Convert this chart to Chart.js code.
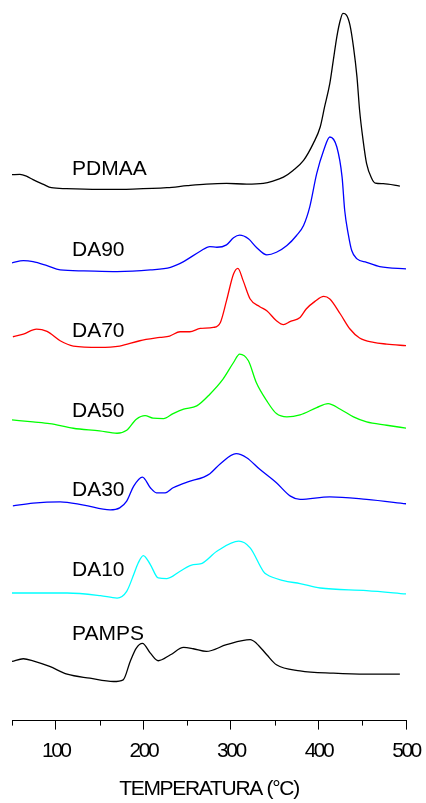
<!DOCTYPE html>
<html>
<head>
<meta charset="utf-8">
<script src="https://cdn.jsdelivr.net/npm/chart.js@4.4.1/dist/chart.umd.min.js"></script>
<style>
  html, body { margin: 0; padding: 0; background: #fff; }
  #wrap { width: 426px; height: 803px; position: relative; }
</style>
</head>
<body>
<div id="wrap"><canvas id="c"></canvas></div>
<script>
// DTG curves, stacked with vertical offsets (arbitrary units)
const pdmaaT = [50, 59, 67, 74, 86, 95, 112, 150, 188, 227, 250, 272, 295, 318, 337, 348, 360, 371, 383, 394, 402, 407, 413, 417, 421, 425, 428, 432, 436, 440, 444, 447, 451, 455, 461, 465, 474, 493];
const pdmaaY = [544.7, 545, 543, 539.7, 535, 531.7, 530.7, 530, 530.3, 531.7, 533.7, 535.3, 536, 535.3, 536, 538.3, 542.3, 549, 559, 575.7, 592.3, 612.3, 635.7, 659, 682.3, 699, 705.7, 704, 694, 672.3, 642.3, 609, 579, 555.7, 540.7, 536.3, 535.7, 533.3];

const da90T = [50, 63, 74, 90, 105, 132, 170, 208, 231, 246, 265, 276, 284, 295, 303, 310, 320, 329, 341, 352, 364, 375, 383, 390, 398, 406, 413, 421, 427, 430, 434, 438, 444, 455, 470, 501];
const da90Y = [456.7, 459, 458, 454, 449.7, 448.7, 448, 449.7, 452.3, 458, 468.3, 473, 472.3, 474.7, 481.7, 484.3, 480.7, 472.3, 464.7, 467.3, 474, 484, 494, 512.3, 545.7, 569, 582.3, 572.3, 542.3, 509, 485.7, 469, 460.7, 457.3, 453, 450.7];

const da70T = [51, 63, 78, 90, 105, 120, 150, 173, 196, 219, 230, 242, 253, 265, 280, 288, 295, 303, 308, 314, 322, 333, 341, 352, 360, 368, 379, 386, 396, 406, 413, 425, 436, 447, 463, 478, 501];
const da70Y = [383, 385.7, 390.7, 388.3, 379, 373.7, 372.3, 373.7, 379, 382.3, 383.7, 388, 388, 391.3, 392.3, 397.3, 419, 445.7, 451.3, 439, 420.7, 413, 409, 399, 395, 398.3, 402.3, 410.7, 418.3, 423.3, 420.7, 405.7, 390.7, 381.7, 377.3, 375.7, 374];

const da50T = [50, 74, 93, 120, 150, 170, 181, 192, 202, 211, 223, 234, 246, 261, 276, 291, 303, 310, 320, 329, 341, 352, 364, 379, 398, 411, 425, 440, 455, 478, 501];
const da50Y = [300, 298, 296.3, 291.7, 289, 286.7, 289.7, 300.7, 304.3, 301.7, 301.3, 306.3, 310.7, 314, 325.7, 340.7, 357.3, 365.7, 359, 337.3, 319, 306.3, 303, 305, 312.3, 316.3, 310.7, 303, 298, 294.7, 291.7];

const da30T = [51, 74, 105, 132, 162, 173, 181, 189, 199, 208, 215, 225, 234, 250, 269, 276, 288, 306, 318, 333, 352, 368, 379, 413, 455, 501];
const da30Y = [214.3, 217, 218.3, 215, 210.3, 212.3, 219, 234, 243, 232.3, 227.3, 227.3, 232.3, 238, 243, 246.3, 256.3, 266.3, 262.3, 250.7, 237.3, 224, 220.7, 223.3, 220.7, 216.3];

const da10T = [50, 74, 113, 151, 170, 181, 189, 194, 200, 208, 217, 227, 242, 257, 265, 284, 309, 322, 337, 341, 360, 379, 402, 455, 501];
const da10Y = [127.3, 127.3, 127.3, 124.7, 122.3, 129, 145.7, 157, 164.7, 155.7, 142.3, 141.7, 149, 155.7, 156.3, 169, 179, 172.3, 149, 145.7, 139.7, 136.7, 132.3, 129.7, 126.3];

const pampsT = [50, 63, 74, 93, 113, 139, 166, 177, 185, 192, 199, 208, 217, 231, 246, 257, 272, 295, 322, 329, 341, 352, 379, 417, 455, 493];
const pampsY = [59, 61.7, 59.7, 54, 46.3, 42.3, 39, 40.7, 59, 72.3, 77, 67.3, 59.7, 65.7, 73, 71.7, 69, 75.7, 80.7, 77.3, 65.7, 55.7, 49.7, 47.3, 46.3, 46.3];

const seriesNames  = ['PDMAA', 'DA90', 'DA70', 'DA50', 'DA30', 'DA10', 'PAMPS'];
const seriesColors = ['#000000', '#0000ff', '#ff0000', '#00ff00', '#0000ff', '#00ffff', '#000000'];
const seriesT = [pdmaaT, da90T, da70T, da50T, da30T, da10T, pampsT];
const seriesY = [pdmaaY, da90Y, da70Y, da50Y, da30Y, da10Y, pampsY];

// label anchor for each curve name (temperature, offset value at baseline)
const labelT = [118.5, 118.5, 118.5, 118.5, 118.5, 118.5, 118.5];
const labelY = [544, 464, 383, 303, 224, 144, 80];

const tickLabels = [100, 200, 300, 400, 500];
const xTitle = 'TEMPERATURA (°C)';

const datasets = seriesNames.map((name, i) => ({
  label: name,
  data: seriesT[i].map((t, k) => ({ x: t, y: seriesY[i][k] })),
  borderColor: seriesColors[i],
  borderWidth: 1.3,
  pointRadius: 0,
  fill: false,
  cubicInterpolationMode: 'monotone'
}));

const FONT = 'Liberation Sans, Arial, sans-serif';

const decor = {
  id: 'decor',
  beforeDraw(chart) {
    chart.ctx.letterSpacing = '-1.3px';
  },
  afterDatasetsDraw(chart) {
    chart.ctx.letterSpacing = '-2.5px';
  },
  afterDraw(chart) {
    const ctx = chart.ctx;
    const xs = chart.scales.x, ys = chart.scales.y;
    ctx.save();
    ctx.letterSpacing = '0px';
    // minor ticks between labelled values
    ctx.strokeStyle = '#000';
    ctx.lineWidth = 1;
    const yb = chart.chartArea.bottom;
    for (let v = 50; v <= 500; v += 100) {
      const px = Math.round(xs.getPixelForValue(v)) + 0.5;
      ctx.beginPath();
      ctx.moveTo(px, yb);
      ctx.lineTo(px, yb + 5);
      ctx.stroke();
    }
    // curve names
    ctx.fillStyle = '#000';
    ctx.font = '21px ' + FONT;
    ctx.textBaseline = 'alphabetic';
    ctx.textAlign = 'left';
    seriesNames.forEach((n, i) => {
      ctx.fillText(n, xs.getPixelForValue(labelT[i]), ys.getPixelForValue(labelY[i]));
    });
    ctx.restore();
  }
};

new Chart(document.getElementById('c'), {
  type: 'line',
  data: { datasets },
  options: {
    responsive: true,
    maintainAspectRatio: false,
    animation: false,
    layout: { padding: { left: 12, right: 20, top: 0, bottom: 0 } },
    plugins: { legend: { display: false }, tooltip: { enabled: false } },
    scales: {
      x: {
        type: 'linear',
        min: 50, max: 500,
        afterFit: (s) => { s.paddingLeft = 0; s.paddingRight = 0; },
        border: { display: true, color: '#000', width: 1 },
        grid: {
          display: true,
          drawOnChartArea: false,
          drawTicks: true,
          tickLength: 9,
          tickWidth: 1,
          tickColor: (c) => (tickLabels.includes(c.tick && c.tick.value) ? '#000' : 'rgba(0,0,0,0)')
        },
        ticks: {
          stepSize: 50,
          autoSkip: false,
          maxRotation: 0,
          padding: 9,
          z: 1,
          color: '#000',
          font: { family: FONT, size: 21 },
          callback: (v) => (tickLabels.includes(v) ? String(v) : '')
        },
        title: {
          display: true,
          text: xTitle,
          color: '#000',
          font: { family: FONT, size: 21 },
          padding: { top: 4, bottom: 1 }
        }
      },
      y: {
        display: false,
        min: 0, max: 719
      }
    }
  },
  plugins: [decor]
});
</script>
</body>
</html>
